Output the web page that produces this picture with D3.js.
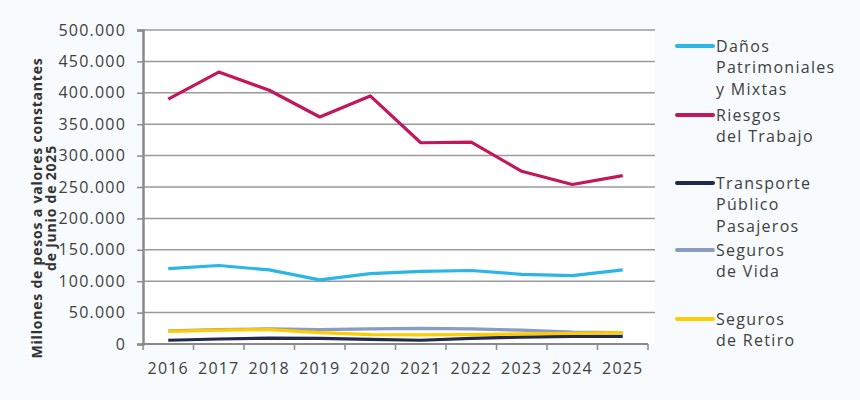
<!DOCTYPE html>
<html lang="es">
<head>
  <meta charset="UTF-8">
  <title>Millones de pesos a valores constantes</title>
  <script src="https://d3js.org/d3.v7.min.js"></script>
  <style>
    body { margin: 0; background: #f7fbfe; }
    text { font-family: "Open Sans", sans-serif; fill: #404040; }
    .tick text { font-size: 16px; letter-spacing: 1.2px; }
    .legend text { font-size: 16px; letter-spacing: 1.3px; }
  </style>
</head>
<body>
<div id="chart"></div>
<script>

// data
var years = ["2016", "2017", "2018", "2019", "2020", "2021", "2022", "2023", "2024", "2025"];
var danos      = [120000, 125000, 118000, 102000, 112000, 115500, 117000, 111000, 109000, 118000];
var riesgos    = [390000, 433000, 404000, 361500, 395000, 320500, 321500, 275000, 254000, 268000];
var transporte = [6000, 8000, 9500, 9000, 7500, 6000, 9000, 11000, 12000, 12000];
var vida       = [21000, 23000, 24000, 23000, 24000, 25000, 24000, 22000, 19000, 18000];
var retiro     = [20000, 22000, 23000, 18000, 15000, 14500, 15000, 16000, 17000, 18000];
var yTicks = [0, 50000, 100000, 150000, 200000, 250000, 300000, 350000, 400000, 450000, 500000];

var series = [
  { name: ["Daños", "Patrimoniales", "y Mixtas"], values: danos, color: "#2db5e8", ly: 46 },
  { name: ["Riesgos", "del Trabajo"], values: riesgos, color: "#c2185b", ly: 115 },
  { name: ["Transporte", "Público", "Pasajeros"], values: transporte, color: "#1f2a4d", ly: 183 },
  { name: ["Seguros", "de Vida"], values: vida, color: "#8a9cc2", ly: 250 },
  { name: ["Seguros", "de Retiro"], values: retiro, color: "#ffcc00", ly: 319 }
];

var W = 860, H = 400;
var margin = {top: 30, left: 143, right: 212, bottom: 56};
var width = W - margin.left - margin.right,
    height = H - margin.top - margin.bottom;

var svg = d3.select("#chart").append("svg")
    .attr("width", W).attr("height", H);

var g = svg.append("g")
    .attr("transform", "translate(" + margin.left + "," + margin.top + ")");

// white plot area
g.append("rect")
  .attr("width", width + 7).attr("height", height)
  .attr("fill", "#ffffff");

var x = d3.scaleBand().domain(years).range([0, 505]);
var y = d3.scaleLinear().domain([0, 500000]).range([height, 0]);

var fmt = function(d) { return d3.format(",")(d).replace(/,/g, "."); };

// gridlines
g.selectAll(".grid")
  .data(yTicks.slice(1))
  .enter().append("line")
  .attr("x1", 0).attr("x2", width + 7)
  .attr("y1", function(d) { return y(d); })
  .attr("y2", function(d) { return y(d); })
  .attr("stroke", "#9a9a9a").attr("stroke-width", 1.5);

// y axis
var yAxis = g.append("g")
  .call(d3.axisLeft(y).tickValues(yTicks).tickFormat(fmt).tickSize(6).tickPadding(11));
yAxis.select(".domain").attr("stroke", "#8a8a8a").attr("stroke-width", 2.5);
yAxis.selectAll(".tick line").attr("stroke", "#8a8a8a").attr("stroke-width", 1.5);

// x axis with ticks between categories
var xAxis = g.append("g")
  .attr("transform", "translate(0," + height + ")");
xAxis.append("line")
  .attr("x1", 0).attr("x2", 505)
  .attr("stroke", "#8a8a8a").attr("stroke-width", 2);
xAxis.selectAll(".xt")
  .data(years.concat(["end"]))
  .enter().append("line")
  .attr("x1", function(d, i) { return i * x.step(); })
  .attr("x2", function(d, i) { return i * x.step(); })
  .attr("y1", 0).attr("y2", 6)
  .attr("stroke", "#8a8a8a").attr("stroke-width", 1.5);
xAxis.selectAll(".xl")
  .data(years)
  .enter().append("text")
  .attr("x", function(d) { return x(d) + x.bandwidth() / 2; })
  .attr("y", 30)
  .attr("text-anchor", "middle")
  .style("font-size", "16px")
  .style("letter-spacing", "1.2px")
  .text(function(d) { return d; });

// lines
var line = d3.line()
  .x(function(d, i) { return x(years[i]) + x.bandwidth() / 2; })
  .y(function(d) { return y(d); });

series.forEach(function(s) {
  g.append("path")
    .datum(s.values)
    .attr("fill", "none")
    .attr("stroke", s.color)
    .attr("stroke-width", 3.2)
    .attr("stroke-linejoin", "round")
    .attr("d", line);
});

// y axis label
var lab = svg.append("text")
  .attr("transform", "translate(42,208) rotate(-90)")
  .attr("text-anchor", "middle")
  .style("font-size", "14px")
  .style("font-weight", "bold")
  .style("letter-spacing", "0.8px")
  .style("fill", "#333");
lab.append("tspan").attr("x", 0).attr("dy", 0).text("Millones de pesos a valores constantes");
lab.append("tspan").attr("x", 0).attr("dy", 14).text("de Junio de 2025");

// legend
var leg = svg.append("g").attr("class", "legend");
series.forEach(function(s) {
  leg.append("line")
    .attr("x1", 677).attr("x2", 713)
    .attr("y1", s.ly).attr("y2", s.ly)
    .attr("stroke", s.color).attr("stroke-width", 4)
    .attr("stroke-linecap", "round");
  s.name.forEach(function(t, i) {
    leg.append("text")
      .attr("x", 716)
      .attr("y", s.ly + i * 21.5)
      .attr("dy", "0.35em")
      .text(t);
  });
});

</script>
</body>
</html>
